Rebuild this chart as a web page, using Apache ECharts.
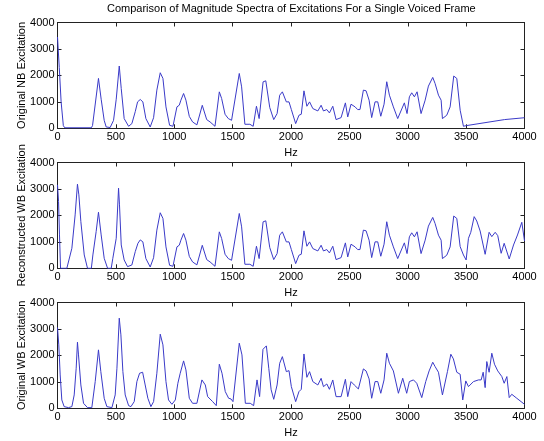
<!DOCTYPE html>
<html>
<head>
<meta charset="utf-8">
<script src="https://cdn.jsdelivr.net/npm/echarts@6/dist/echarts.min.js"></script>
<style>html,body{margin:0;padding:0;background:#fff}#c{width:544px;height:441px}</style>
</head>
<body>
<div id="c"></div>
<script>
const titleText = "Comparison of Magnitude Spectra of Excitations For a Single Voiced Frame";
const yNames = ["Original NB Excitation", "Reconstructed WB Excitation", "Original WB Excitation"];
const xName = "Hz";
const xTicks = [0, 500, 1000, 1500, 2000, 2500, 3000, 3500, 4000];
const yTicks = [0, 1000, 2000, 3000, 4000];

// Original NB excitation
const nbHz = [0,15,31,50,62,290,300,351,374,400,417,451,480,503,529,546,571,609,637,666,686,709,731,757,794,823,851,880,903,929,960,989,1023,1043,1057,1080,1100,1129,1157,1194,1240,1278,1307,1349,1386,1406,1435,1463,1491,1506,1557,1577,1605,1648,1676,1704,1727,1761,1784,1818,1852,1881,1903,1926,1960,1983,2003,2040,2068,2088,2111,2136,2159,2187,2230,2258,2278,2307,2329,2358,2386,2429,2466,2486,2514,2549,2571,2591,2620,2643,2669,2691,2720,2743,2769,2797,2820,2843,2877,2914,2971,2994,3014,3034,3057,3080,3114,3149,3177,3214,3234,3263,3286,3297,3334,3363,3394,3420,3449,3477,3500,3830,4000];
const nbMag = [3450,2300,1000,100,20,20,100,1886,1100,300,50,30,300,1100,2355,1500,367,76,177,631,1000,1089,1000,367,50,400,1443,2100,1886,810,114,76,810,873,1063,1316,1063,450,240,130,870,329,240,76,1378,1125,531,367,303,240,2073,1567,152,152,76,834,367,1757,1795,784,329,556,1251,1378,999,999,708,177,493,531,1416,834,999,746,657,872,657,708,581,834,329,404,961,430,910,810,708,709,1443,1418,1063,405,1000,1000,456,911,1760,1253,810,367,962,557,1190,1342,1190,1380,557,1063,1595,1924,1696,1253,1063,367,494,810,1975,1886,684,76,100,330,400];

// Reconstructed WB excitation
const rwbHz = [0,9,17,26,80,123,151,171,183,200,229,257,290,303,331,351,374,400,429,460,474,503,523,531,546,571,600,637,666,689,709,731,757,794,823,851,880,903,929,960,989,1023,1043,1057,1080,1100,1129,1157,1194,1240,1278,1307,1349,1386,1406,1435,1463,1491,1506,1557,1577,1605,1648,1676,1704,1727,1761,1784,1818,1852,1881,1903,1926,1960,1983,2003,2040,2068,2088,2111,2136,2159,2187,2230,2258,2278,2307,2329,2358,2386,2429,2466,2486,2514,2549,2571,2591,2620,2643,2669,2691,2720,2743,2769,2797,2820,2843,2877,2914,2971,2994,3014,3034,3057,3080,3114,3149,3177,3214,3234,3263,3286,3297,3334,3363,3394,3420,3449,3477,3500,3520,3540,3569,3591,3620,3663,3697,3720,3749,3771,3800,3826,3869,3906,3940,3977,4000];
const rwbMag = [3155,2524,1262,0,0,757,2019,3180,2776,1767,505,0,0,505,1388,2120,1262,379,0,0,379,1136,3029,2398,883,316,63,126,631,947,1073,1000,367,50,400,1443,2100,1886,810,114,76,810,873,1063,1316,1063,450,240,130,870,329,240,76,1378,1125,531,367,303,240,2073,1567,152,152,76,834,367,1757,1795,784,329,556,1251,1378,999,999,708,177,493,531,1416,834,999,746,657,872,657,708,581,834,329,404,961,430,910,810,708,709,1443,1418,1063,405,1000,1000,456,911,1760,1253,810,367,962,557,1190,1342,1190,1380,557,1063,1595,1924,1696,1253,1063,367,494,810,1975,1886,819,504,315,1134,1361,1953,1789,1411,529,1361,1197,1361,1235,567,945,353,882,1260,1739,1033];

// Original WB excitation
const owbHz = [0,11,23,37,57,94,123,143,160,171,180,200,223,257,294,323,351,371,400,423,466,494,509,529,543,560,580,609,629,657,680,703,729,751,774,800,823,851,880,903,929,951,980,1009,1031,1051,1080,1100,1129,1157,1194,1237,1266,1286,1329,1360,1386,1409,1437,1466,1486,1503,1557,1580,1609,1651,1680,1709,1731,1760,1789,1810,1830,1852,1881,1903,1926,1960,1983,2003,2040,2068,2088,2111,2136,2159,2187,2230,2258,2278,2307,2329,2358,2386,2429,2466,2486,2514,2542,2577,2591,2620,2643,2669,2691,2720,2743,2769,2797,2820,2843,2877,2891,2920,2957,2991,3014,3049,3077,3120,3154,3183,3214,3234,3263,3297,3340,3369,3391,3420,3449,3471,3497,3520,3563,3606,3629,3646,3663,3677,3697,3720,3743,3771,3806,3826,3849,3869,3891,3934,4000];
const owbMag = [3054,2398,1262,316,63,25,63,505,1514,2499,2019,883,189,25,25,1010,2209,1388,379,63,25,505,1514,3407,2776,1388,505,101,63,252,1010,1325,1363,883,379,63,252,1325,2802,2398,1010,316,151,316,947,1325,1792,1451,379,189,189,1073,883,442,252,101,1666,1325,631,379,353,252,2461,2019,189,189,101,1073,442,2230,2360,1500,700,340,882,1701,1953,1386,1424,819,252,630,718,2054,1172,1386,1008,882,1134,819,920,718,1071,441,441,1096,441,1008,882,732,694,1489,1413,1111,379,1010,1010,568,1073,2082,1704,1413,1363,568,1136,568,1010,1073,947,404,1010,1413,1742,1578,1363,505,1388,2044,1868,1363,1287,316,1035,820,1010,1073,1073,1363,782,1767,1363,2082,1666,1413,1199,947,1199,404,530,379,151];

const seriesHz = [nbHz, rwbHz, owbHz];
const seriesMag = [nbMag, rwbMag, owbMag];

const FONT = "Liberation Sans, Arial, sans-serif";
const tops = [22.5, 162.5, 302.5];
const gridH = 105.8;
const axisColor = '#222';
const plain = v => String(v);

const grid = [], xAxis = [], yAxis = [], series = [];
for (let i = 0; i < 3; i++) {
  grid.push({ left: 57.5, width: 467, top: tops[i], height: gridH, containLabel: false });
  xAxis.push({
    type: 'value', gridIndex: i, min: xTicks[0], max: xTicks[xTicks.length - 1],
    interval: xTicks[1] - xTicks[0], position: 'bottom',
    name: xName, nameLocation: 'middle', nameGap: 19, nameMoveOverlap: false,
    nameTextStyle: { fontFamily: FONT, fontSize: 11, color: '#000' },
    axisLine: { show: true, onZero: false, lineStyle: { color: axisColor, width: 1 } },
    axisTick: { show: true, inside: true, length: 4, lineStyle: { color: axisColor } },
    axisLabel: { show: true, margin: 3, fontFamily: FONT, fontSize: 11, color: '#000', formatter: plain },
    splitLine: { show: false }
  });
  xAxis.push({
    type: 'value', gridIndex: i, min: xTicks[0], max: xTicks[xTicks.length - 1],
    interval: xTicks[1] - xTicks[0], position: 'top',
    axisLine: { show: true, onZero: false, lineStyle: { color: axisColor, width: 1 } },
    axisTick: { show: true, inside: true, length: 4, lineStyle: { color: axisColor } },
    axisLabel: { show: false }, splitLine: { show: false }
  });
  yAxis.push({
    type: 'value', gridIndex: i, min: yTicks[0], max: yTicks[yTicks.length - 1],
    interval: yTicks[1] - yTicks[0], position: 'left',
    name: yNames[i], nameLocation: 'middle', nameGap: 30, nameRotate: 90, nameMoveOverlap: false,
    nameTextStyle: { fontFamily: FONT, fontSize: 11, color: '#000' },
    axisLine: { show: true, onZero: false, lineStyle: { color: axisColor, width: 1 } },
    axisTick: { show: true, inside: true, length: 4, lineStyle: { color: axisColor } },
    axisLabel: { show: true, margin: 3, fontFamily: FONT, fontSize: 11, color: '#000', formatter: plain },
    splitLine: { show: false }
  });
  yAxis.push({
    type: 'value', gridIndex: i, min: yTicks[0], max: yTicks[yTicks.length - 1],
    interval: yTicks[1] - yTicks[0], position: 'right',
    axisLine: { show: true, onZero: false, lineStyle: { color: axisColor, width: 1 } },
    axisTick: { show: true, inside: true, length: 4, lineStyle: { color: axisColor } },
    axisLabel: { show: false }, splitLine: { show: false }
  });
  series.push({
    type: 'line', xAxisIndex: 2 * i, yAxisIndex: 2 * i,
    data: seriesHz[i].map((h, k) => [h, seriesMag[i][k]]),
    showSymbol: false, symbol: 'none', animation: false,
    lineStyle: { color: '#3a3ac8', width: 1 }, clip: true
  });
}

const chart = echarts.init(document.getElementById('c'), null, { renderer: 'canvas' });
chart.setOption({
  backgroundColor: '#fff',
  animation: false,
  grid, xAxis, yAxis, series,
  graphic: [{
    type: 'text', left: 290 - 183, top: 3,
    style: { text: titleText, fontFamily: FONT, fontSize: 11, fill: '#000' }
  }]
});
</script>
</body>
</html>
